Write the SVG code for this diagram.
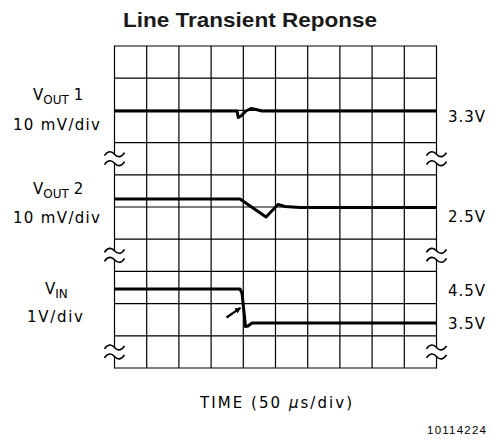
<svg xmlns="http://www.w3.org/2000/svg" width="492" height="439" viewBox="0 0 492 439">
<style>
.grid{stroke:#000;stroke-width:1.2;fill:none}
.trace{stroke:#000;stroke-width:3;fill:none;stroke-linejoin:round}
.lbl{font-family:"DejaVu Sans","Liberation Sans",sans-serif;font-size:15px;fill:#000}
.sub{font-size:12px}
.tilde{stroke:#000;stroke-width:1.6;fill:none}
</style>
<defs>
<g id="brk">
<rect x="-3" y="-4.5" width="6" height="9" fill="#fff"/>
<path class="tilde" d="M-10,-3 C-7,-8 -3,-8 0,-4.5 C3,-1 7,-1 10,-6"/>
<path class="tilde" d="M-10,6 C-7,1 -3,1 0,4.5 C3,8 7,8 10,3"/>
</g>
<marker id="ah" viewBox="0 0 10 10" refX="9" refY="5" markerWidth="6" markerHeight="6" orient="auto" markerUnits="userSpaceOnUse">
<path d="M0,0 L10,5 L0,10 z" fill="#000"/>
</marker>
</defs>
<rect width="492" height="439" fill="#fff"/>
<text id="title" x="250" y="27" text-anchor="middle" font-family="Liberation Sans, Arial, sans-serif" font-weight="bold" font-size="21" textLength="254" lengthAdjust="spacingAndGlyphs" fill="#1a1a1a">Line Transient Reponse</text>
<g id="grid" class="grid">
<path d="M146.7,46V368M178.9,46V368M211.1,46V368M243.3,46V368M275.5,46V368M307.7,46V368M339.9,46V368M372.1,46V368M404.3,46V368"/>
<path d="M114.5,46H436.5M114.5,78.2H436.5M114.5,110.4H436.5M114.5,142.6H436.5M114.5,174.8H436.5M114.5,207H436.5M114.5,239.2H436.5M114.5,271.4H436.5M114.5,303.6H436.5M114.5,335.8H436.5M114.5,368H436.5"/>
<path d="M114.5,45.4V368.6M436.5,45.4V368.6"/>
</g>
<g id="breaks">
<use href="#brk" x="114.5" y="158.7"/>
<use href="#brk" x="114.5" y="255.3"/>
<use href="#brk" x="114.5" y="351.9"/>
<use href="#brk" x="436.5" y="158.7"/>
<use href="#brk" x="436.5" y="255.3"/>
<use href="#brk" x="436.5" y="351.9"/>
</g>
<g id="traces">
<path id="vout1" class="trace" d="M114.5,111 L237,111 L238.3,117.5 L241,116 L246,111 L251,108.5 L256,109.5 L262,111 L436.5,111"/>
<path id="vout2" class="trace" d="M114.5,199 L240,199 L266,217 L278,204.5 L285,206.5 L300,207.5 L436.5,207.5"/>
<path id="vin" class="trace" d="M114.5,289 L240,289 L242,293 L245.5,326.5 L248,326 L252,323 L436.5,323"/>
</g>
<g id="connectors">
<line x1="226.5" y1="317.5" x2="240.5" y2="307.8" stroke="#000" stroke-width="2.2" marker-end="url(#ah)"/>
</g>
<g id="left-labels" class="lbl">
<text x="33" y="99.5">V<tspan class="sub" dy="4">OUT</tspan><tspan dy="-4" dx="5">1</tspan></text>
<text x="13" y="129.5" textLength="87" lengthAdjust="spacing">10 mV/div</text>
<text x="33" y="194">V<tspan class="sub" dy="4">OUT</tspan><tspan dy="-4" dx="5">2</tspan></text>
<text x="13" y="223" textLength="87" lengthAdjust="spacing">10 mV/div</text>
<text x="45" y="293.5">V<tspan class="sub" dy="4">IN</tspan></text>
<text x="27" y="322" textLength="56" lengthAdjust="spacing">1V/div</text>
</g>
<g id="right-labels" class="lbl">
<text x="448" y="122" textLength="37" lengthAdjust="spacing">3.3V</text>
<text x="448" y="221.5" textLength="37" lengthAdjust="spacing">2.5V</text>
<text x="448" y="296" textLength="37" lengthAdjust="spacing">4.5V</text>
<text x="448" y="329" textLength="37" lengthAdjust="spacing">3.5V</text>
</g>
<text id="xaxis" class="lbl" x="200" y="408" textLength="152" lengthAdjust="spacing">TIME (50 <tspan font-style="italic">μ</tspan>s/div)</text>
<text id="figid" x="427" y="433.5" font-family="Liberation Sans, Arial, sans-serif" font-size="11.5" textLength="59" lengthAdjust="spacing" fill="#000">10114224</text>
</svg>
